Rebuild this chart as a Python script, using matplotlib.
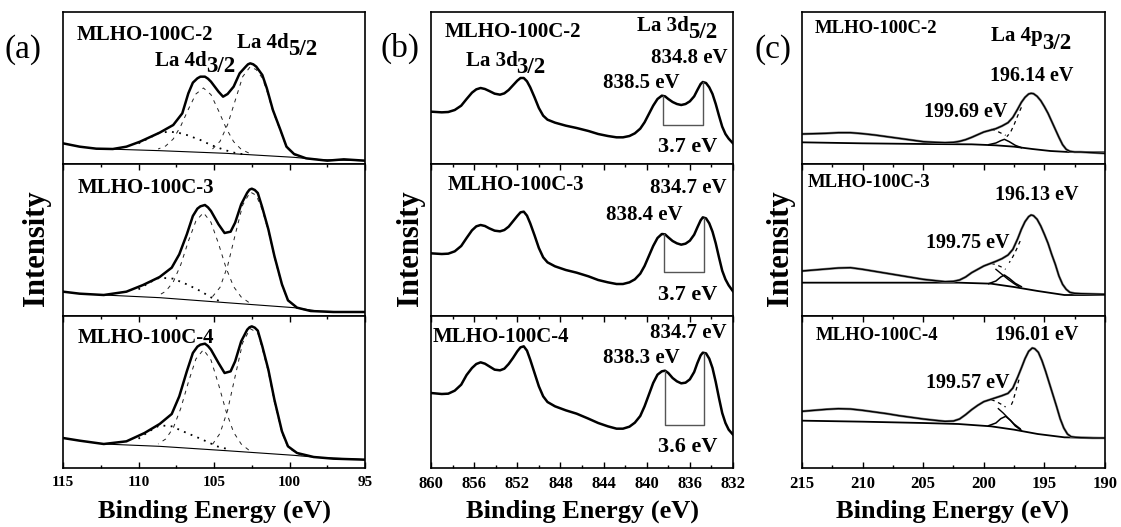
import matplotlib
matplotlib.use('Agg')
import matplotlib.pyplot as plt
import numpy as np
from matplotlib.ticker import MultipleLocator

W, H = 1121, 527
plt.rcParams['font.family'] = ['Liberation Serif', 'DejaVu Serif']
plt.rcParams['font.weight'] = 'bold'

samples = ['MLHO-100C-2', 'MLHO-100C-3', 'MLHO-100C-4']

# ---------------- Panel (a): La 4d ----------------
a_xticks = [115, 110, 105, 100, 95]
a_xticklabels = ['115', '110', '105', '100', '95']

a2_env_x = [115.0, 113.9, 112.8, 111.7, 110.8, 109.9, 108.6, 107.7, 107.1, 106.7, 106.4, 106.1, 105.9, 105.6, 105.4, 105.2, 104.7, 104.4, 104.1, 103.7, 103.3, 102.9, 102.75, 102.6, 102.4, 102.2, 101.8, 101.5, 101.1, 100.6, 100.2, 99.7, 98.9, 97.5, 96.4, 95.0]
a2_env_y = [62, 52, 46, 45, 52, 67, 94, 117, 152, 212, 244, 257, 262, 262, 256, 247, 217, 202, 210, 232, 272, 292, 299, 302, 299, 292, 267, 227, 162, 102, 52, 30, 17, 10, 14, 10]
a2_base_x = [112.8, 108.6, 104.2, 99.7, 98.0, 95.0]
a2_base_y = [46, 40, 32, 20, 13, 10]
a2_p1_x = [102.7, 103.2, 103.7, 104.2, 104.7, 105.2, 105.7, 106.2, 106.7, 107.2, 107.7, 108.2, 108.7]
a2_p1_y = [33, 44, 67, 108, 160, 208, 228, 210, 164, 114, 75, 54, 45]
a2_p2_x = [105.1, 104.6, 104.1, 103.6, 103.1, 102.6, 102.2, 101.8, 101.5, 101.1, 100.6, 100.2, 99.7, 99.2]
a2_p2_y = [45, 68, 118, 190, 262, 292, 283, 258, 220, 158, 99, 50, 28, 20]
a2_sat_x = [110.0, 109.3, 108.6, 107.9, 107.3, 106.8, 105.9, 105.2, 104.3, 103.5, 103.0]
a2_sat_y = [62, 78, 94, 97, 93, 87, 72, 57, 42, 32, 29]

a3_env_x = [115.0, 113.9, 112.3, 110.8, 109.7, 108.6, 107.8, 107.3, 106.8, 106.4, 106.1, 105.9, 105.6, 105.4, 105.2, 104.7, 104.3, 103.9, 103.6, 103.2, 102.8, 102.65, 102.5, 102.3, 102.1, 101.8, 101.4, 101.0, 100.5, 100.1, 99.5, 98.6, 97.1, 95.0]
a3_env_y = [73, 67, 63, 73, 93, 117, 145, 185, 245, 300, 322, 329, 333, 326, 315, 275, 249, 253, 280, 335, 370, 379, 382, 378, 369, 325, 260, 180, 95, 47, 25, 15, 12, 12]
a3_base_x = [112.3, 108.6, 104.2, 99.7, 98.0, 95.0]
a3_base_y = [63, 55, 40, 25, 14, 12]
a3_p1_x = [102.7, 103.2, 103.7, 104.2, 104.7, 105.2, 105.7, 106.2, 106.7, 107.2, 107.7, 108.2, 108.7]
a3_p1_y = [41, 57, 88, 144, 217, 281, 310, 285, 224, 154, 102, 74, 61]
a3_p2_x = [105.1, 104.6, 104.1, 103.6, 103.1, 102.6, 102.2, 101.8, 101.4, 101.0, 100.5, 100.1, 99.5, 99.0]
a3_p2_y = [58, 86, 150, 243, 333, 372, 362, 318, 255, 176, 92, 46, 26, 18]
a3_sat_x = [110.0, 109.3, 108.6, 107.7, 106.8, 105.9, 105.2, 104.6]
a3_sat_y = [80, 100, 115, 112, 95, 75, 56, 44]

a4_env_x = [115.0, 113.9, 112.3, 110.8, 109.6, 108.6, 107.8, 107.3, 106.8, 106.4, 106.1, 105.9, 105.6, 105.4, 105.2, 104.7, 104.3, 103.9, 103.6, 103.2, 102.8, 102.65, 102.5, 102.3, 102.1, 101.8, 101.4, 101.0, 100.5, 100.1, 99.5, 98.4, 97.1, 95.0]
a4_env_y = [90, 82, 72, 80, 105, 132, 162, 215, 290, 345, 364, 370, 373, 366, 355, 315, 285, 290, 320, 380, 415, 422, 425, 421, 412, 365, 295, 205, 110, 65, 45, 33, 28, 25]
a4_base_x = [112.3, 108.6, 104.2, 99.7, 98.2, 95.0]
a4_base_y = [72, 65, 52, 38, 32, 25]
a4_p1_x = [102.7, 103.2, 103.7, 104.2, 104.7, 105.2, 105.7, 106.2, 106.7, 107.2, 107.7, 108.2, 108.7]
a4_p1_y = [54, 72, 107, 170, 251, 324, 355, 327, 257, 179, 120, 87, 72]
a4_p2_x = [105.1, 104.6, 104.1, 103.6, 103.1, 102.6, 102.1, 101.8, 101.4, 101.0, 100.5, 100.1, 99.5, 99.0]
a4_p2_y = [71, 104, 173, 275, 376, 418, 405, 358, 288, 198, 105, 62, 43, 36]
a4_sat_x = [110.0, 109.3, 108.6, 107.8, 106.8, 105.9, 104.8, 104.2]
a4_sat_y = [88, 110, 128, 125, 105, 88, 65, 58]

# ---------------- Panel (b): La 3d ----------------
b_xticks = [860, 856, 852, 848, 844, 840, 836, 832]
b_xticklabels = ['860', '856', '852', '848', '844', '840', '836', '832']

b_x = [860, 859.0, 858.4, 857.8, 857.2, 856.7, 856.2, 855.8, 855.4, 855.0, 854.6, 854.1, 853.6, 853.2, 852.8, 852.4, 852.0, 851.7, 851.4, 851.1, 850.8, 850.4, 850.0, 849.6, 849.2, 848.5, 847.5, 846.5, 845.4, 844.5, 843.6, 842.8, 842.2, 841.6, 841.1, 840.6, 840.2, 839.8, 839.4, 839.0, 838.6, 838.3, 838.0, 837.6, 837.2, 836.8, 836.4, 836.0, 835.6, 835.3, 835.0, 834.8, 834.5, 834.2, 833.9, 833.6, 833.3, 833.0, 832.7, 832.4, 832.0]
b2_y = [157, 155, 156, 162, 175, 195, 214, 224, 228, 225, 219, 211, 208, 212, 222, 236, 250, 258, 258, 248, 230, 200, 168, 145, 133, 124, 115, 108, 99, 90, 84, 80, 80, 84, 92, 106, 125, 150, 175, 195, 205, 203, 195, 186, 180, 177, 180, 188, 203, 222, 240, 246, 243, 230, 210, 180, 145, 112, 90, 76, 62]
b3_y = [188, 186, 187, 194, 210, 234, 257, 269, 273, 270, 263, 256, 254, 258, 268, 284, 300, 311, 313, 301, 278, 242, 204, 176, 161, 149, 138, 130, 119, 108, 101, 96, 96, 101, 110, 127, 150, 180, 210, 234, 246, 245, 236, 225, 218, 214, 217, 226, 244, 266, 287, 296, 293, 278, 253, 218, 176, 136, 110, 92, 74]
b4_y = [225, 222, 223, 232, 250, 279, 300, 312, 317, 313, 305, 295, 293, 298, 312, 330, 350, 362, 365, 352, 325, 285, 245, 215, 198, 185, 173, 163, 148, 135, 125, 118, 118, 124, 136, 156, 185, 220, 255, 280, 290, 292, 285, 270, 260, 254, 256, 266, 288, 315, 338, 346, 344, 328, 300, 258, 210, 165, 135, 115, 100]

b_sat_peak = [838.5, 838.4, 838.3]
b_main_peak = [834.8, 834.7, 834.7]
b_split = ['3.7 eV', '3.7 eV', '3.6 eV']
b_bracket_low = [117, 132, 130]

# ---------------- Panel (c): La 4p ----------------
c_xticks = [215, 210, 205, 200, 195, 190]
c_xticklabels = ['215', '210', '205', '200', '195', '190']

c2_env_x = [215, 214, 213, 212, 211, 210, 209, 208, 207, 206, 205, 204, 203.2, 202.5, 202.0, 201.5, 201.0, 200.5, 200.0, 199.5, 199.0, 198.5, 198.0, 197.6, 197.2, 196.9, 196.6, 196.3, 196.1, 195.9, 195.6, 195.3, 195.0, 194.7, 194.4, 194.1, 193.8, 193.5, 193.2, 192.9, 192.5, 192.0, 191.0, 190]
c2_env_y = [90, 91, 92, 94, 94, 91, 87, 82, 77, 72, 67, 65, 64, 65, 68, 73, 80, 88, 96, 101, 106, 114, 124, 140, 165, 185, 200, 210, 212, 211, 203, 190, 172, 152, 128, 104, 80, 58, 44, 38, 36, 36, 34, 32]
c2_base_x = [215, 210, 205, 201, 199, 197.5, 196, 194.5, 193, 190]
c2_base_y = [65, 62, 60, 59, 56, 52, 45, 39, 36, 35]
c2_bump_x = [199.6, 199.0, 198.6, 198.3, 197.9, 197.4, 196.9]
c2_bump_y = [58, 63, 70, 74, 67, 56, 49]
c2_dash1_x = [199.4, 199.0, 198.6, 198.2]
c2_dash1_y = [104, 100, 93, 86]
c2_dash2_x = [196.9, 197.2, 197.5, 197.8, 198.1]
c2_dash2_y = [170, 145, 118, 95, 82]

c3_env_x = [215, 214, 213, 212, 211, 210, 209, 208, 207, 206, 205, 204, 203.2, 202.5, 202.0, 201.5, 201.0, 200.5, 200.0, 199.5, 199.0, 198.5, 198.0, 197.6, 197.2, 196.9, 196.6, 196.3, 196.1, 195.9, 195.6, 195.3, 195.0, 194.7, 194.4, 194.1, 193.8, 193.5, 193.2, 192.9, 192.5, 192.0, 191.0, 190]
c3_env_y = [135, 138, 141, 144, 145, 140, 134, 128, 122, 116, 110, 106, 103, 104, 108, 117, 130, 140, 150, 157, 164, 172, 183, 200, 232, 260, 283, 298, 303, 301, 290, 270, 245, 218, 185, 155, 120, 95, 80, 71, 68, 67, 66, 65]
c3_base_x = [215, 210, 205, 202.1, 199.4, 197.5, 195.55, 193.35, 190]
c3_base_y = [100, 100, 100, 100, 97, 87, 75, 63, 63]
c3_bump_x = [199.6, 199.0, 198.6, 198.3, 197.9, 197.4, 196.9]
c3_bump_y = [97, 105, 117, 123, 113, 98, 88]
c3_tail_x = [199.0, 198.5, 198.0, 197.5, 197.1]
c3_tail_y = [140, 125, 110, 97, 88]
c3_dash1_x = [199.4, 199.0, 198.6, 198.2]
c3_dash1_y = [158, 154, 148, 140]
c3_dash2_x = [197.0, 197.3, 197.6, 197.9]
c3_dash2_y = [225, 200, 178, 160]

c4_env_x = [215, 214, 213, 212, 211, 210, 209, 208, 207, 206, 205, 204, 203.2, 202.5, 202.0, 201.5, 201.0, 200.5, 200.0, 199.5, 199.0, 198.5, 198.0, 197.6, 197.2, 196.9, 196.6, 196.3, 196.0, 195.8, 195.5, 195.2, 194.9, 194.6, 194.3, 194.0, 193.7, 193.4, 193.1, 192.8, 192.4, 192.0, 191.0, 190]
c4_env_y = [170, 173, 176, 178, 177, 173, 168, 163, 157, 152, 147, 143, 140, 141, 147, 160, 175, 188, 199, 205, 211, 217, 224, 240, 273, 300, 328, 350, 360, 358, 347, 322, 290, 255, 220, 185, 148, 120, 102, 94, 92, 91, 90, 90]
c4_base_x = [215, 210, 205, 202.1, 199.4, 197.5, 195.55, 193.35, 190]
c4_base_y = [142, 139, 135, 132, 125, 115, 102, 92, 90]
c4_bump_x = [199.6, 199.0, 198.6, 198.2, 197.8, 197.4, 196.9]
c4_bump_y = [127, 135, 148, 155, 143, 126, 113]
c4_tail_x = [198.8, 198.4, 198.0, 197.5, 197.0]
c4_tail_y = [178, 165, 150, 132, 118]
c4_dash1_x = [199.4, 199.0, 198.6, 198.2]
c4_dash1_y = [205, 200, 192, 183]
c4_dash2_x = [197.1, 197.35, 197.6, 197.85]
c4_dash2_y = [265, 232, 200, 180]

YMAX = 456

fig = plt.figure(figsize=(W / 100, H / 100), dpi=100)


def ftext(px, py, s, **kw):
    kw.setdefault('fontweight', 'bold')
    return fig.text(px / W, 1 - py / H, s, **kw)


def make_col(left_px, right_px, xlim, major, minor, ticks, labels, tick_fs):
    axes = []
    for i in range(3):
        top = 12 + 152 * i
        ax = fig.add_axes([left_px / W, 1 - (top + 152) / H, (right_px - left_px) / W, 152 / H])
        ax.set_xlim(*xlim)
        ax.set_ylim(0, YMAX)
        ax.set_yticks([])
        ax.xaxis.set_major_locator(MultipleLocator(major))
        ax.xaxis.set_minor_locator(MultipleLocator(minor))
        for sp in ax.spines.values():
            sp.set_linewidth(1.2)
        ax.tick_params(axis='x', which='both', direction='in', top=(i > 0),
                       bottom=(i == 2), labelbottom=(i == 2), labeltop=False,
                       width=1.0, color='black')
        ax.tick_params(axis='x', which='major', length=4.0, pad=6)
        ax.tick_params(axis='x', which='minor', length=2.5)
        if i == 2:
            ax.set_xticks(ticks)
            ax.set_xticklabels(labels, fontsize=tick_fs, fontweight='bold')
        axes.append(ax)
    return axes


axA = make_col(63, 365, (115, 95), 5, 2.5, a_xticks, a_xticklabels, 11)
axB = make_col(431, 733, (860, 832), 4, 2, b_xticks, b_xticklabels, 12)
axC = make_col(802, 1105, (215, 190), 5, 2.5, c_xticks, c_xticklabels, 12)

# Panel a curves
a_sets = [
    (a2_env_x, a2_env_y, a2_base_x, a2_base_y, a2_p1_x, a2_p1_y, a2_p2_x, a2_p2_y, a2_sat_x, a2_sat_y),
    (a3_env_x, a3_env_y, a3_base_x, a3_base_y, a3_p1_x, a3_p1_y, a3_p2_x, a3_p2_y, a3_sat_x, a3_sat_y),
    (a4_env_x, a4_env_y, a4_base_x, a4_base_y, a4_p1_x, a4_p1_y, a4_p2_x, a4_p2_y, a4_sat_x, a4_sat_y),
]
for ax, (ex, ey, bx, by, p1x, p1y, p2x, p2y, sx, sy) in zip(axA, a_sets):
    ax.plot(bx, by, color='black', lw=0.8)
    ax.plot(p1x, p1y, color='#222222', lw=0.7, ls=(0, (4, 5)))
    ax.plot(p2x, p2y, color='#222222', lw=0.7, ls=(0, (4, 5)))
    ax.plot(sx, sy, color='black', lw=1.3, ls=(0, (1, 3)))
    ax.plot(ex, ey, color='black', lw=1.8)

# Panel b curves
b_sets = [b2_y, b3_y, b4_y]
for k, (ax, by) in enumerate(zip(axB, b_sets)):
    ax.plot(b_x, by, color='black', lw=1.8)
    xs = np.array(b_x)[::-1]
    ys = np.array(by)[::-1]
    y_sat = np.interp(b_sat_peak[k], xs, ys)
    y_main = np.interp(b_main_peak[k], xs, ys)
    ax.plot([b_sat_peak[k], b_sat_peak[k], b_main_peak[k], b_main_peak[k]],
            [y_sat, b_bracket_low[k], b_bracket_low[k], y_main],
            color='#555555', lw=1.0)

# Panel c curves
c_sets = [
    (c2_env_x, c2_env_y, c2_base_x, c2_base_y, c2_bump_x, c2_bump_y, None, None, c2_dash1_x, c2_dash1_y, c2_dash2_x, c2_dash2_y),
    (c3_env_x, c3_env_y, c3_base_x, c3_base_y, c3_bump_x, c3_bump_y, c3_tail_x, c3_tail_y, c3_dash1_x, c3_dash1_y, c3_dash2_x, c3_dash2_y),
    (c4_env_x, c4_env_y, c4_base_x, c4_base_y, c4_bump_x, c4_bump_y, c4_tail_x, c4_tail_y, c4_dash1_x, c4_dash1_y, c4_dash2_x, c4_dash2_y),
]
for ax, (ex, ey, bx, by, ux, uy, tx, ty, d1x, d1y, d2x, d2y) in zip(axC, c_sets):
    ax.plot(bx, by, color='black', lw=1.3)
    ax.plot(ux, uy, color='black', lw=1.1)
    if tx is not None:
        ax.plot(tx, ty, color='black', lw=1.0)
    ax.plot(d1x, d1y, color='black', lw=0.9, ls=(0, (3, 3)))
    ax.plot(d2x, d2y, color='black', lw=0.9, ls=(0, (3, 3)))
    ax.plot(ex, ey, color='#888888', lw=1.8)
    ax.plot(ex, ey, color='black', lw=1.0)

# ---------------- Text ----------------
ftext(5, 50, '(a)', fontsize=24, fontweight='normal', va='center')
ftext(380, 48, '(b)', fontsize=24, fontweight='normal', va='center')
ftext(755, 50, '(c)', fontsize=24, fontweight='normal', va='center')

for (px, py), s in zip([(77, 40), (78, 193), (78, 343)], samples):
    ftext(px, py, s, fontsize=15, va='baseline')
for (px, py), s in zip([(445, 37), (448, 190), (433, 342)], samples):
    ftext(px, py, s, fontsize=15, va='baseline')
for (px, py), s in zip([(815, 33), (808, 187), (816, 340)], samples):
    ftext(px, py, s, fontsize=13.5, va='baseline')

# panel a peak names
ftext(155, 66, 'La 4d', fontsize=15, va='baseline')
ftext(206, 72, '3/2', fontsize=16.5, va='baseline')
ftext(237, 48, 'La 4d', fontsize=15, va='baseline')
ftext(288, 55, '5/2', fontsize=16.5, va='baseline')

# panel b
ftext(466, 66, 'La 3d', fontsize=15, va='baseline')
ftext(516, 73, '3/2', fontsize=16.5, va='baseline')
ftext(637, 31, 'La 3d', fontsize=15, va='baseline')
ftext(688, 38, '5/2', fontsize=16.5, va='baseline')
ftext(651, 63, '834.8 eV', fontsize=15, va='baseline')
ftext(603, 88, '838.5 eV', fontsize=15, va='baseline')
ftext(650, 193, '834.7 eV', fontsize=15, va='baseline')
ftext(606, 220, '838.4 eV', fontsize=15, va='baseline')
ftext(650, 338, '834.7 eV', fontsize=15, va='baseline')
ftext(603, 363, '838.3 eV', fontsize=15, va='baseline')
for py, s in zip([152, 300, 452], b_split):
    ftext(658, py, s, fontsize=16, va='baseline')

# panel c
ftext(991, 41, 'La 4p', fontsize=15, va='baseline')
ftext(1042, 49, '3/2', fontsize=16.5, va='baseline')
ftext(990, 81, '196.14 eV', fontsize=14.5, va='baseline')
ftext(924, 117, '199.69 eV', fontsize=14.5, va='baseline')
ftext(995, 200, '196.13 eV', fontsize=14.5, va='baseline')
ftext(926, 248, '199.75 eV', fontsize=14.5, va='baseline')
ftext(995, 340, '196.01 eV', fontsize=14.5, va='baseline')
ftext(926, 388, '199.57 eV', fontsize=14.5, va='baseline')

# axis titles
for px in [37, 411, 781]:
    ftext(px, 248, 'Intensity', fontsize=22, rotation=90, ha='center', va='center')
for px in [214, 582, 953]:
    ftext(px, 518, 'Binding Energy (eV)', fontsize=19, ha='center', va='baseline')

fig.savefig('out.png', dpi=100)
